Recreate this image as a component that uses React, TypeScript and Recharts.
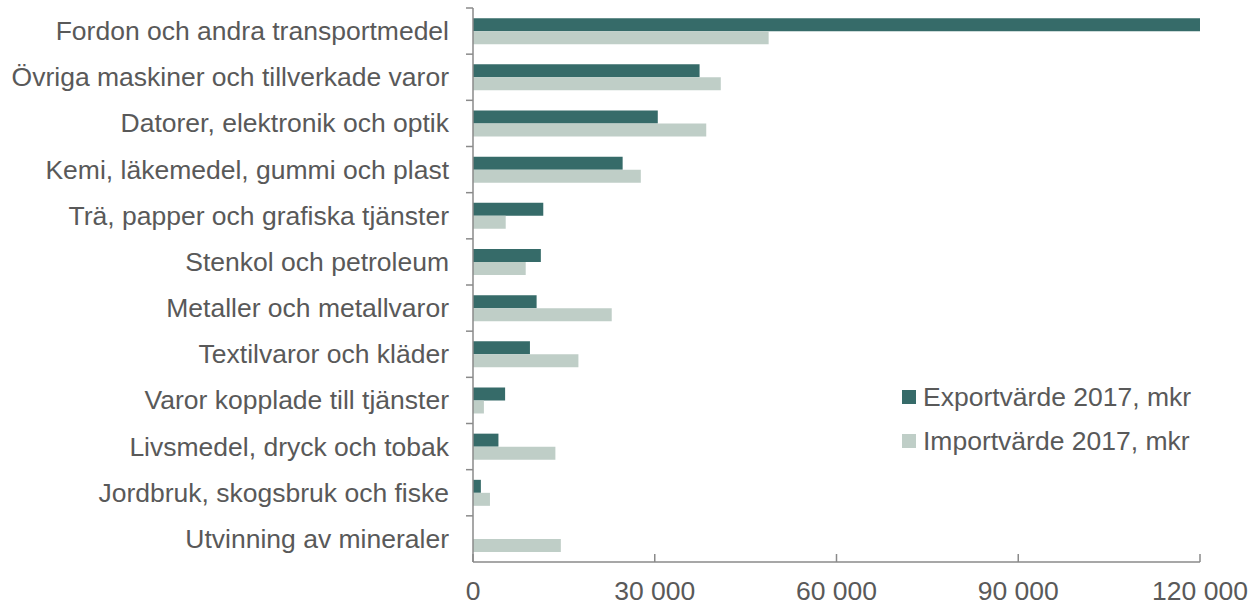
import { BarChart, Bar, XAxis, YAxis } from "recharts";

const categories = [
    "Fordon och andra transportmedel",
    "Övriga maskiner och tillverkade varor",
    "Datorer, elektronik och optik",
    "Kemi, läkemedel, gummi och plast",
    "Trä, papper och grafiska tjänster",
    "Stenkol och petroleum",
    "Metaller och metallvaror",
    "Textilvaror och kläder",
    "Varor kopplade till tjänster",
    "Livsmedel, dryck och tobak",
    "Jordbruk, skogsbruk och fiske",
    "Utvinning av mineraler",
];
const exportValues = [120000, 37400, 30500, 24700, 11600, 11200, 10500, 9400, 5300, 4200, 1300, 0];
const importValues = [48800, 40900, 38500, 27700, 5400, 8700, 22900, 17400, 1800, 13600, 2800, 14500];
const xTicks = [0, 30000, 60000, 90000, 120000];

const exportName = "Exportvärde 2017, mkr";
const importName = "Importvärde 2017, mkr";

const data = categories.map((name, i) => ({
    name,
    exp: exportValues[i],
    imp: importValues[i],
}));

const TEXT = "#595959";
const AXIS = "#8a8a8a";
const DARK = "#366b69";
const LIGHT = "#bfcec7";
const FONT = "'Liberation Sans', Arial, sans-serif";
const FS = 26.5;
const Y_TICK = 7;
const Y_MARGIN = 17;
const X_TICK = 8;
const X_MARGIN = 19;

// space as thousands separator, like the original
const fmt = (v: number) => String(v).replace(/\B(?=(\d{3})+(?!\d))/g, " ");

function YTick(props: any) {
    const { x, y, payload, height, visibleTicksCount } = props;
    const axisX = x + Y_TICK + Y_MARGIN;
    // tick marks sit on the band edges, not the band centres
    let off = typeof payload.offset === "number" && payload.offset > 0 ? payload.offset : 0;
    if (!off && height && visibleTicksCount) off = height / visibleTicksCount / 2;
    return (
        <g>
            <line x1={axisX - Y_TICK} x2={axisX} y1={y - off} y2={y - off} stroke={AXIS} strokeWidth={1.5} />
            <text x={x} y={y} textAnchor="end" dominantBaseline="central" fill={TEXT} fontSize={FS} fontFamily={FONT}>
                {payload.value}
            </text>
        </g>
    );
}

function XTick(props: any) {
    const { x, y, payload } = props;
    const axisY = y - X_MARGIN;
    return (
        <g>
            <line x1={x} x2={x} y1={axisY} y2={axisY - X_TICK} stroke={AXIS} strokeWidth={1.5} />
            <text x={x} y={y} dy="0.72em" textAnchor="middle" fill={TEXT} fontSize={FS} fontFamily={FONT}>
                {fmt(payload.value)}
            </text>
        </g>
    );
}

const legendItems = [
    { name: exportName, color: DARK },
    { name: importName, color: LIGHT },
];

export default function App() {
    return (
        <div style={{ position: "absolute", left: 0, top: 0, width: 1251, height: 605, background: "#fff" }}>
            <BarChart
                width={1251}
                height={605}
                data={data}
                layout="vertical"
                margin={{ top: 8, right: 51, bottom: 3, left: 8 }}
                barCategoryGap="22%"
                barGap={0}
            >
                <XAxis
                    type="number"
                    domain={[0, 120000]}
                    ticks={xTicks}
                    tickLine={false}
                    tickSize={X_TICK}
                    tickMargin={X_MARGIN - X_TICK}
                    axisLine={{ stroke: AXIS, strokeWidth: 1.5 }}
                    tick={<XTick />}
                    height={40}
                    interval={0}
                />
                <YAxis
                    type="category"
                    dataKey="name"
                    width={465}
                    tickLine={false}
                    tickSize={Y_TICK}
                    tickMargin={Y_MARGIN}
                    axisLine={{ stroke: AXIS, strokeWidth: 1.5 }}
                    tick={<YTick />}
                    interval={0}
                />
                <Bar dataKey="exp" name={exportName} fill={DARK} isAnimationActive={false} />
                <Bar dataKey="imp" name={importName} fill={LIGHT} isAnimationActive={false} />
            </BarChart>
            <div style={{ position: "absolute", left: 902, top: 375, fontFamily: FONT, fontSize: FS, color: TEXT }}>
                {legendItems.map((it) => (
                    <div key={it.name} style={{ display: "flex", alignItems: "center", height: 44, whiteSpace: "nowrap" }}>
                        <span style={{ width: 14, height: 14, background: it.color, marginRight: 7, display: "inline-block" }} />
                        <span>{it.name}</span>
                    </div>
                ))}
            </div>
        </div>
    );
}
